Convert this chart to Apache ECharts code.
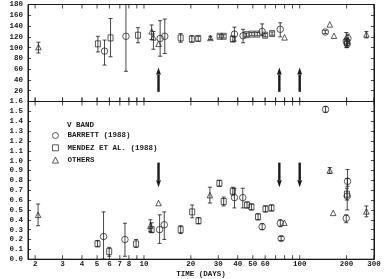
<!DOCTYPE html>
<html><head><meta charset="utf-8">
<script src="https://cdn.jsdelivr.net/npm/echarts@6/dist/echarts.min.js"></script>
<style>html,body{margin:0;padding:0;background:#fff}#c{width:384px;height:279px}</style>
</head><body><div id="c"></div>
<script>
// ---- data ----
const tickDays = [2,3,4,5,6,7,8,9,10,20,30,40,50,60,70,80,90,100,200,300];
const tickDayLabels = ['2','3','4','5','6','7','8','','10','20','30','40','50','60','','','','100','200','300'];
const paTicks = [0,20,40,60,80,100,120,140,160,180];
const polTicks = [0.0,0.1,0.2,0.3,0.4,0.5,0.6,0.7,0.8,0.9,1.0,1.1,1.2,1.3,1.4,1.5,1.6];
// [day, value, low, high]
const barrettPA = [[5.58,93.5,67.6,114],[7.66,121,56,180],[12.7,117,84,150],[13.6,121,89,153],[38.1,125,112,138],[43.3,122,109,134],[57.4,130,122,144],[75,134,120,146],[146,129,126,132],[199,112,100,128],[202,107,100,118],[204,117,108,125]];
const mendezPA = [[5.06,107,92,121],[6.1,118,83,154],[9.15,123,109,137],[17.2,118,110,126],[20.3,116,110,122],[22.3,117,112,121],[30.6,121,118,124],[32.5,121,118,124],[37.2,116,111,121],[45.5,124,121,127],[49.2,125,122,128],[53.4,125,122,128],[60,123,120,126],[66.5,126,123,129],[201,110,104,116]];
const othersPA = [[2.1,101,90,110],[11.2,130,115,142],[11.5,119,97,130],[12.4,107,107,107],[26.7,118,115,121],[80,119,119,119],[156,143,143,143],[166,122,122,122],[268,124.5,118,130]];
const barrettPol = [[5.5,0.23,0.0,0.48],[7.55,0.20,0.03,0.365],[12.6,0.30,0.16,0.45],[13.5,0.35,0.20,0.48],[38.1,0.625,0.52,0.72],[43.1,0.625,0.52,0.72],[57.4,0.33,0.30,0.36],[75.1,0.365,0.33,0.40],[76,0.21,0.19,0.23],[146.6,1.52,1.49,1.55],[199,0.415,0.37,0.45],[202,0.64,0.5,0.82],[203,0.79,0.74,0.91]];
const mendezPol = [[5.03,0.155,0.13,0.19],[5.98,0.077,0.03,0.12],[8.9,0.155,0.12,0.20],[11.2,0.30,0.27,0.37],[17.2,0.30,0.26,0.34],[20.4,0.48,0.42,0.55],[22.4,0.39,0.36,0.42],[30.5,0.77,0.74,0.80],[32.5,0.585,0.54,0.63],[37.2,0.69,0.65,0.73],[45.9,0.55,0.52,0.58],[49,0.53,0.50,0.56],[54,0.43,0.40,0.46],[60.3,0.51,0.48,0.54],[65.9,0.52,0.49,0.55],[201,0.66,0.6,0.72]];
const othersPol = [[2.09,0.45,0.34,0.56],[11.0,0.34,0.28,0.40],[12.4,0.57,0.57,0.57],[26.5,0.65,0.57,0.73],[79.7,0.37,0.37,0.37],[156,0.90,0.87,0.93],[164,0.47,0.47,0.47],[268,0.485,0.43,0.54]];
const arrowDays = [12.4, 74, 100];
const paArrow = [18, 63];      // [tail, tip]
const polArrow = [0.98, 0.73]; // [tail, tip]

// ---- chart ----
const FONT = 'Liberation Mono';
const INK = '#1a1a1a';
const FS = 7.5;
const chart = echarts.init(document.getElementById('c'), null, {renderer:'canvas'});
const txt = {fontFamily: FONT, fontWeight: 'bold', fontSize: FS, color: INK};
const hollow = {color: 'rgba(0,0,0,0)', borderColor: INK, borderWidth: 0.9};

function errSeries(name, data, gi, symbol, size) {
  return [{
    type: 'custom', xAxisIndex: gi, yAxisIndex: gi*2, silent: true, z: 3,
    data: data.map(d => [d[0], d[1], d[2], d[3]]),
    encode: {x: 0, y: 1},
    renderItem: (p, api) => {
      const t = api.value(0), lo = api.value(2), hi = api.value(3);
      if (lo === hi) return null;
      const a = api.coord([t, lo]), b = api.coord([t, hi]);
      const s = {stroke: INK, lineWidth: 0.8};
      return {type: 'group', children: [
        {type: 'line', shape: {x1: a[0], y1: a[1], x2: b[0], y2: b[1]}, style: s},
        {type: 'line', shape: {x1: a[0]-2, y1: a[1], x2: a[0]+2, y2: a[1]}, style: s},
        {type: 'line', shape: {x1: b[0]-2, y1: b[1], x2: b[0]+2, y2: b[1]}, style: s}
      ]};
    }
  }, {
    name: name, type: 'scatter', xAxisIndex: gi, yAxisIndex: gi*2, z: 4,
    symbol: symbol, symbolSize: size,
    itemStyle: hollow,
    data: data.map(d => [d[0], d[1]])
  }];
}

function tickSeries(gi, withLabels) {
  return {
    type: 'custom', xAxisIndex: gi, yAxisIndex: gi*2, silent: true, z: 5,
    data: tickDays.map((t, i) => [t, i]),
    encode: {x: 0},
    renderItem: (p, api) => {
      const cs = p.coordSys;
      const t = api.value(0), i = api.value(1);
      const x = api.coord([t, 0])[0];
      const s = {stroke: INK, lineWidth: 0.8};
      const ch = [
        {type: 'line', shape: {x1: x, y1: cs.y, x2: x, y2: cs.y + 4}, style: s},
        {type: 'line', shape: {x1: x, y1: cs.y + cs.height, x2: x, y2: cs.y + cs.height - 4}, style: s}
      ];
      if (gi === 1) ch.push({type: 'line', shape: {x1: x, y1: cs.y, x2: x, y2: cs.y - 4}, style: s});
      if (withLabels && tickDayLabels[i]) {
        ch.push({type: 'text', x: x, y: cs.y + cs.height + 5,
          style: {text: tickDayLabels[i], fill: INK, font: 'bold ' + FS + 'px ' + FONT, align: 'center', verticalAlign: 'middle'}});
      }
      return {type: 'group', children: ch};
    }
  };
}

function arrowSeries(gi, range) {
  return {
    type: 'custom', xAxisIndex: gi, yAxisIndex: gi*2, silent: true, z: 6,
    data: arrowDays.map(t => [t, range[0], range[1]]),
    encode: {x: 0, y: 1},
    renderItem: (p, api) => {
      const t = api.value(0);
      const a = api.coord([t, api.value(1)]), b = api.coord([t, api.value(2)]);
      const dir = b[1] < a[1] ? 1 : -1; // 1: up
      const hl = 7;
      return {type: 'group', children: [
        {type: 'line', shape: {x1: a[0], y1: a[1], x2: b[0], y2: b[1] + dir*hl}, style: {stroke: INK, lineWidth: 2.4}},
        {type: 'polygon', shape: {points: [[b[0], b[1]], [b[0]-2.4, b[1] + dir*hl], [b[0]+2.4, b[1] + dir*hl]]}, style: {fill: INK}}
      ]};
    }
  };
}

const yBase = (gi, right, min, max, interval, labels, fmt) => ({
  type: 'value', gridIndex: gi, position: right ? 'right' : 'left', min: min, max: max, interval: interval,
  axisLine: {show: true, lineStyle: {color: INK, width: 1}},
  axisTick: {show: true, inside: true, length: 3, lineStyle: {color: INK, width: 0.8}},
  axisLabel: {show: labels, ...txt, margin: 5, formatter: fmt},
  splitLine: {show: false}
});

const option = {
  animation: false,
  backgroundColor: '#fff',
  title: {text: 'V BAND', left: 67, top: 121.5, padding: 0, textStyle: {...txt}},
  legend: {
    orient: 'vertical', left: 52, top: 131.5, padding: 0, itemWidth: 6, itemHeight: 6, itemGap: 4.3,
    data: ['BARRETT (1988)', 'MENDEZ ET AL. (1988)', 'OTHERS'],
    itemStyle: hollow,
    textStyle: {...txt, padding: [0, 0, 0, 4]}
  },
  grid: [
    {left: 28, right: 10, top: 4.5, height: 97, show: true, borderColor: INK, borderWidth: 1, backgroundColor: 'transparent', containLabel: false, outerBoundsMode: 'none'},
    {left: 28, right: 10, top: 101.5, height: 157.7, show: true, borderColor: INK, borderWidth: 1, backgroundColor: 'transparent', containLabel: false, outerBoundsMode: 'none'}
  ],
  xAxis: [
    {type: 'log', gridIndex: 0, min: 1.8, max: 300, logBase: 10,
     axisLine: {show: true, lineStyle: {color: INK}}, axisTick: {show: false}, axisLabel: {show: false}, splitLine: {show: false}},
    {type: 'log', gridIndex: 1, min: 1.8, max: 300, logBase: 10, name: 'TIME (DAYS)', nameLocation: 'middle', nameGap: 11,
     nameTextStyle: {...txt},
     axisLine: {show: true, lineStyle: {color: INK}}, axisTick: {show: false}, axisLabel: {show: false}, splitLine: {show: false}}
  ],
  yAxis: [
    Object.assign(yBase(0, false, 0, 180, 20, true, v => v === 0 ? '' : String(v)), {name: 'P.A.  (DEG.)', nameLocation: 'middle', nameGap: 19, nameRotate: 90, nameTextStyle: {...txt}}),
    yBase(0, true, 0, 180, 20, false),
    Object.assign(yBase(1, false, 0, 1.6, 0.1, true, v => v.toFixed(1)), {name: 'POLARIZATION  (%)', nameLocation: 'middle', nameGap: 19, nameRotate: 90, nameTextStyle: {...txt}}),
    yBase(1, true, 0, 1.6, 0.1, false)
  ],
  series: [
    ...errSeries('BARRETT (1988)', barrettPA, 0, 'circle', 6.5),
    ...errSeries('MENDEZ ET AL. (1988)', mendezPA, 0, 'rect', [5, 6]),
    ...errSeries('OTHERS', othersPA, 0, 'triangle', 5.5),
    ...errSeries('BARRETT (1988)', barrettPol, 1, 'circle', 6.5),
    ...errSeries('MENDEZ ET AL. (1988)', mendezPol, 1, 'rect', [5, 6]),
    ...errSeries('OTHERS', othersPol, 1, 'triangle', 5.5),
    tickSeries(0, false),
    tickSeries(1, true),
    arrowSeries(0, paArrow),
    arrowSeries(1, polArrow)
  ]
};
chart.setOption(option);
</script></body></html>
